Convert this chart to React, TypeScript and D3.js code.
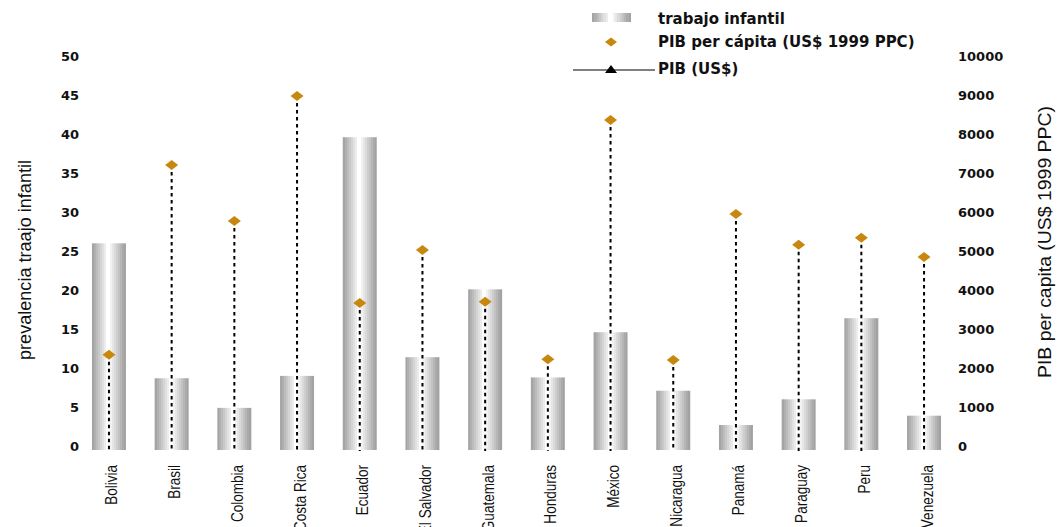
import React from 'react';
import * as d3 from 'd3';

const categories = ['Bolivia', 'Brasil', 'Colombia', 'Costa Rica', 'Ecuador', 'El Salvador', 'Guatemala', 'Honduras', 'México', 'Nicaragua', 'Panamá', 'Paraguay', 'Peru', 'Venezuela'];
const trabajoInfantil = [26.5, 9.2, 5.4, 9.5, 40.1, 11.9, 20.6, 9.3, 15.1, 7.6, 3.2, 6.5, 16.9, 4.4];
const pibPerCapita = [2440, 7310, 5870, 9080, 3770, 5130, 3800, 2330, 8460, 2310, 6050, 5260, 5440, 4950];
const legendLabels = ['trabajo infantil', 'PIB per cápita (US$ 1999 PPC)', 'PIB (US$)'];
const leftTitle = 'prevalencia traajo infantil';
const rightTitle = 'PIB per capita (US$ 1999 PPC)';

const W = 1059;
const H = 527;
const BOLD = "'DejaVu Sans', Verdana, sans-serif";
const SANS = "'Liberation Sans', Arial, sans-serif";
const GOLD = '#c8870e';

const bandColors = ['#a4a4a4', '#b0b0b0', '#bcbcbc', '#c8c8c8', '#d4d4d4', '#e0e0e0', '#ececec', '#ffffff', '#ffffff', '#f2f2f2', '#e6e6e6', '#dadada', '#cecece', '#c2c2c2', '#b6b6b6', '#aaaaaa', '#a2a2a2'];

export default function App() {
  const x = d3.scaleBand<string>().domain(categories).range([77.6, 955.4]).paddingInner(0.458).paddingOuter(0.229);
  const yL = d3.scaleLinear().domain([0, 50]).range([450, 60]);
  const yR = d3.scaleLinear().domain([0, 10000]).range([450, 60]);
  const bw = x.bandwidth();

  const stops: any[] = [];
  const n = bandColors.length;
  bandColors.forEach((c, i) => {
    stops.push(<stop key={i + 'a'} offset={i / n} stopColor={c} />);
    stops.push(<stop key={i + 'b'} offset={(i + 1) / n} stopColor={c} />);
  });

  const diamond = (cx: number, cy: number, w: number, h: number) =>
    `M${cx - w / 2},${cy} L${cx},${cy - h / 2} L${cx + w / 2},${cy} L${cx},${cy + h / 2} Z`;

  return (
    <svg width={W} height={H} style={{ position: 'absolute', left: 0, top: 0, display: 'block' }}>
      <defs>
        <linearGradient id="barGrad" x1="0" y1="0" x2="1" y2="0">{stops}</linearGradient>
      </defs>
      <rect width={W} height={H} fill="#fff" />

      {yL.ticks(10).map((t) => (
        <text key={'l' + t} x={79} y={yL(t) - 4} dy="0.35em" textAnchor="end" fontFamily={BOLD} fontWeight="bold" fontSize={13} fill="#111">{t}</text>
      ))}
      {yR.ticks(10).map((t) => (
        <text key={'r' + t} x={958} y={yR(t) - 4} dy="0.35em" textAnchor="start" fontFamily={BOLD} fontWeight="bold" fontSize={13} fill="#111">{t}</text>
      ))}

      <g transform="translate(31,260) rotate(-90)">
        <text textAnchor="middle" fontFamily={SANS} fontSize={19} fill="#111" textLength={200} lengthAdjust="spacingAndGlyphs">{leftTitle}</text>
      </g>
      <g transform="translate(1051,242) rotate(-90)">
        <text textAnchor="middle" fontFamily={SANS} fontSize={19} fill="#111" textLength={272} lengthAdjust="spacingAndGlyphs">{rightTitle}</text>
      </g>

      {categories.map((c, i) => (
        <rect key={'b' + c} x={x(c)} y={yL(trabajoInfantil[i])} width={bw} height={yL(0) - yL(trabajoInfantil[i])} fill="url(#barGrad)" />
      ))}

      {categories.map((c, i) => (
        <line key={'d' + c} x1={(x(c) as number) + bw / 2} x2={(x(c) as number) + bw / 2} y1={yR(pibPerCapita[i])} y2={yR(0) + 1} stroke="#000" strokeWidth={2} strokeDasharray="3.5,3.5" />
      ))}

      {categories.map((c, i) => (
        <path key={'p' + c} d={diamond((x(c) as number) + bw / 2, yR(pibPerCapita[i]), 13, 10)} fill={GOLD} />
      ))}

      {categories.map((c) => (
        <g key={'c' + c} transform={`translate(${(x(c) as number) + bw / 2 + 8.5},465) rotate(-90) scale(0.82,1)`}>
          <text textAnchor="end" fontFamily={SANS} fontSize={16.5} fill="#111">{c}</text>
        </g>
      ))}

      <rect x={592} y={13} width={39} height={9} fill="url(#barGrad)" />
      <text x={658} y={24} fontFamily={BOLD} fontWeight="bold" fontSize={15} fill="#111">{legendLabels[0]}</text>
      <path d={diamond(611, 42, 12, 9)} fill={GOLD} />
      <text x={658} y={47} fontFamily={BOLD} fontWeight="bold" fontSize={15} fill="#111">{legendLabels[1]}</text>
      <line x1={573} x2={655} y1={70} y2={70} stroke="#000" strokeWidth={1} />
      <path d="M605,73 L611,65 L617,73 Z" fill="#000" />
      <text x={658} y={74} fontFamily={BOLD} fontWeight="bold" fontSize={15} fill="#111">{legendLabels[2]}</text>
    </svg>
  );
}
